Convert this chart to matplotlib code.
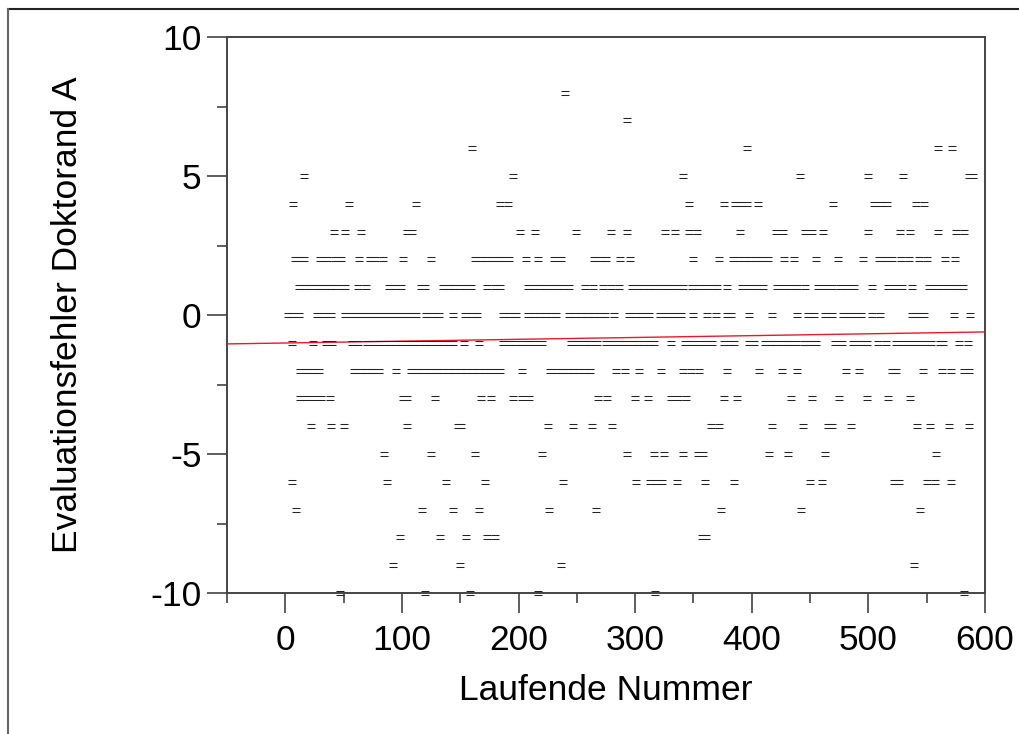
import numpy as np
import matplotlib
matplotlib.use('Agg')
import matplotlib.pyplot as plt
from matplotlib.path import Path
from matplotlib.lines import Line2D

plt.rcParams['font.family'] = ['Liberation Sans', 'DejaVu Sans']
plt.rcParams['axes.unicode_minus'] = False

# running number (x) for each error level (y)
err_p8 = [240]
err_p7 = [293]
err_p6 = [160, 396, 560, 572]
err_p5 = [16, 195, 341, 441, 500, 530, 586, 590]
err_p4 = [7, 55, 112, 184, 191, 346, 376, 386, 391, 396, 405, 470, 505, 511, 516, 541, 548]
err_p3 = [42, 51, 65, 104, 109, 201, 214, 249, 279, 293, 326, 334, 346, 353, 390, 421, 427,
          446, 452, 461, 500, 527, 536, 560, 575, 582]
err_p2 = [8, 12, 16, 30, 36, 43, 48, 63, 73, 77, 84, 101, 125, 163, 168, 173, 178, 183, 186,
          192, 206, 217, 230, 236, 265, 270, 275, 287, 296, 350, 372, 384, 389, 394, 399, 404,
          409, 414, 428, 436, 455, 474, 495, 509, 514, 520, 528, 535, 543, 550, 566, 574]
err_p1 = [12, 16, 20, 26, 30, 34, 38, 43, 49, 51, 62, 69, 89, 94, 99, 116, 120, 135, 140, 145,
          150, 155, 159, 173, 180, 184, 208, 213, 218, 223, 228, 233, 238, 243, 257, 264, 272,
          279, 286, 297, 302, 307, 312, 317, 322, 327, 332, 337, 341, 349, 355, 360, 366, 370,
          379, 392, 398, 404, 410, 422, 428, 434, 439, 446, 457, 463, 469, 476, 482, 488, 503,
          517, 523, 529, 537, 552, 558, 564, 570, 576, 581]
err_0 = [2, 6, 12, 27, 33, 39, 51, 56, 60, 64, 68, 72, 76, 80, 84, 88, 92, 96, 100, 104, 108,
         112, 121, 126, 132, 144, 154, 160, 164, 187, 193, 198, 208, 213, 218, 223, 228, 232,
         243, 248, 254, 259, 264, 270, 274, 282, 295, 300, 306, 312, 321, 327, 333, 339, 350,
         362, 369, 379, 382, 398, 417, 439, 448, 453, 463, 469, 478, 484, 490, 494, 503, 510,
         537, 542, 548, 573, 587]
err_m1 = [6, 24, 35, 40, 57, 62, 70, 75, 80, 85, 90, 95, 100, 105, 110, 115, 120, 125, 130, 135,
          140, 144, 153, 166, 187, 192, 197, 203, 208, 214, 220, 245, 251, 257, 262, 267, 275,
          280, 286, 291, 297, 302, 308, 313, 316, 331, 343, 349, 355, 360, 366, 376, 381, 385,
          398, 402, 411, 416, 421, 427, 432, 438, 445, 450, 455, 471, 477, 487, 493, 499, 508,
          515, 524, 530, 536, 542, 548, 554, 561, 564, 578, 585]
err_m2 = [13, 18, 23, 29, 59, 64, 69, 74, 80, 95, 108, 114, 119, 125, 130, 135, 140, 145, 150,
          155, 161, 166, 172, 178, 184, 203, 227, 232, 237, 242, 247, 252, 257, 261, 284, 291,
          303, 322, 341, 348, 355, 379, 406, 426, 439, 481, 492, 520, 524, 547, 563, 571, 582, 586]
err_m3 = [13, 19, 25, 31, 38, 101, 104, 128, 168, 176, 195, 203, 209, 268, 276, 300, 311, 331,
          337, 344, 376, 387, 434, 452, 475, 499, 517, 536]
err_m4 = [22, 39, 50, 104, 148, 151, 225, 247, 263, 280, 365, 372, 417, 444, 465, 469, 485, 542,
          553, 569, 586]
err_m5 = [85, 125, 163, 220, 293, 316, 325, 341, 354, 358, 415, 431, 463, 558]
err_m6 = [6, 87, 138, 171, 238, 301, 313, 318, 323, 336, 360, 385, 450, 460, 522, 526, 550,
          557, 571]
err_m7 = [9, 117, 144, 166, 226, 266, 374, 442, 544]
err_m8 = [98, 133, 155, 173, 180, 357, 361]
err_m9 = [92, 150, 236, 539]
err_m10 = [47, 120, 158, 217, 317, 582]

levels = {8: err_p8, 7: err_p7, 6: err_p6, 5: err_p5, 4: err_p4, 3: err_p3, 2: err_p2,
          1: err_p1, 0: err_0, -1: err_m1, -2: err_m2, -3: err_m3, -4: err_m4, -5: err_m5,
          -6: err_m6, -7: err_m7, -8: err_m8, -9: err_m9, -10: err_m10}

# regression line
fit_intercept = -1.007
fit_slope = 0.000662

x = np.concatenate([np.array(v, dtype=float) for v in levels.values()])
y = np.concatenate([np.full(len(v), k, dtype=float) for k, v in levels.items()])

# "=" shaped marker
eq_marker = Path([(-1, 0.5), (1, 0.5), (-1, -0.5), (1, -0.5)],
                 [Path.MOVETO, Path.LINETO, Path.MOVETO, Path.LINETO])

fig = plt.figure(figsize=(10.19, 7.34), dpi=100)
ax = fig.add_axes([227 / 1019, 1 - 593 / 734, (985 - 227) / 1019, (593 - 37) / 734])

ax.plot(x, y, linestyle='none', marker=eq_marker, markersize=5.4,
        markeredgewidth=0.75, markeredgecolor='#222222', markerfacecolor='none',
        zorder=4, clip_on=False)

xl = np.array([-50, 600])
ax.plot(xl, fit_intercept + fit_slope * xl, color='#e8192c', lw=1.0, zorder=3)

ax.set_xlim(-50, 600)
ax.set_ylim(-10, 10)
ax.set_xticks([0, 100, 200, 300, 400, 500, 600])
ax.set_xticks(np.arange(-50, 601, 50), minor=True)
ax.set_yticks([-10, -5, 0, 5, 10])
ax.set_yticks(np.arange(-10, 10.1, 2.5), minor=True)

ax.tick_params(axis='both', which='major', direction='out', length=14.4, width=1.1,
               color='#333333', labelsize=25.5, pad=4)
ax.tick_params(axis='both', which='minor', direction='out', length=7.2, width=1.1,
               color='#333333')
ax.tick_params(axis='x', which='major', pad=8)

for s in ax.spines.values():
    s.set_color('#444444')
    s.set_linewidth(1.4)
    s.set_zorder(2)

ax.set_xlabel('Laufende Nummer', fontsize=25.5, labelpad=12)
ax.set_ylabel('Evaluationsfehler Doktorand A', fontsize=25.5, labelpad=48)

# outer frame (top and left edges visible)
fig.add_artist(Line2D([8 / 1019, 1.0], [1 - 9 / 734, 1 - 9 / 734], transform=fig.transFigure,
                      color='#222222', lw=1.5))
fig.add_artist(Line2D([8 / 1019, 8 / 1019], [0.0, 1 - 9 / 734], transform=fig.transFigure,
                      color='#666666', lw=1.5))

plt.savefig('out.png', dpi=100)
